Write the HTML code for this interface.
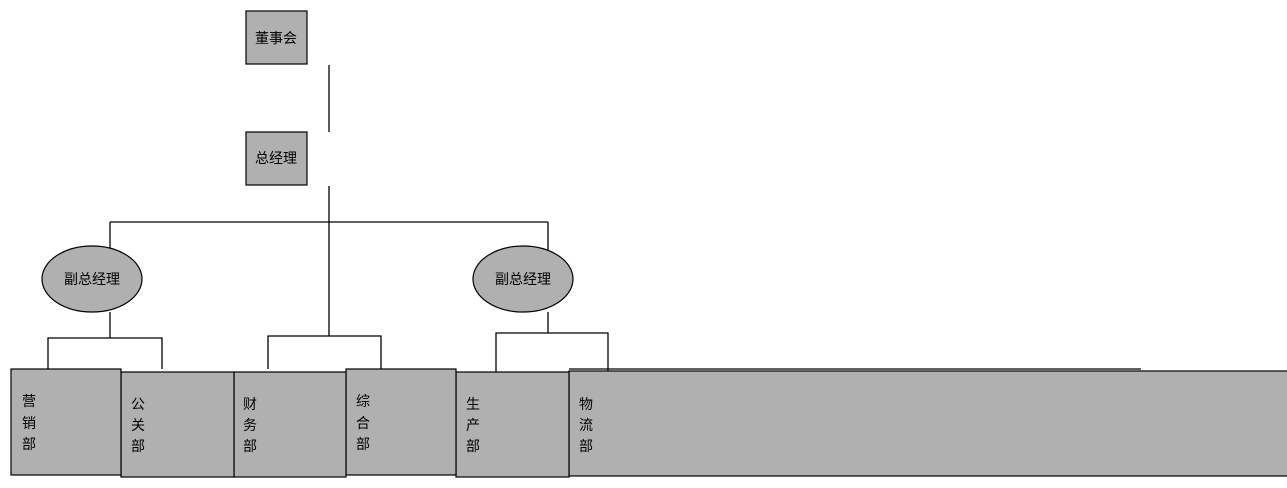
<!DOCTYPE html>
<html><head><meta charset="utf-8"><style>
html,body{margin:0;padding:0;background:#fff;width:1287px;height:488px;overflow:hidden}
svg text{font-family:"Liberation Sans","Noto Sans CJK SC",sans-serif;font-size:14px;fill:#000}
</style></head><body>
<svg width="1287" height="488" xmlns="http://www.w3.org/2000/svg">
<g stroke="#000" stroke-width="1.3" fill="none">
<line x1="329" y1="65" x2="329" y2="132"/>
<line x1="329" y1="186" x2="329" y2="336"/>
<line x1="110" y1="222" x2="548" y2="222"/>
<line x1="110" y1="222" x2="110" y2="250"/>
<line x1="548" y1="222" x2="548" y2="250"/>
<line x1="110" y1="312" x2="110" y2="338"/>
<polyline points="48,369 48,338 162,338 162,369"/>
<polyline points="268,369 268,336 381,336 381,369"/>
<line x1="548" y1="312" x2="548" y2="333"/>
<polyline points="496,372 496,333 608,333 608,372"/>
<line x1="569" y1="369" x2="1141" y2="369"/>
</g>
<g fill="#b0b0b0" stroke="#000" stroke-width="1.2">
<rect x="246" y="11" width="61" height="53"/>
<rect x="246" y="132" width="61" height="53"/>
<ellipse cx="92" cy="279" rx="50" ry="33"/>
<ellipse cx="523" cy="279" rx="50" ry="33"/>
<rect x="569" y="371" width="730" height="105"/>
<rect x="456" y="372" width="113" height="105"/>
<rect x="346" y="369" width="110" height="106"/>
<rect x="234" y="372" width="112" height="105"/>
<rect x="121" y="372" width="113" height="105"/>
<rect x="11" y="369" width="110" height="106"/>
</g>
<text x="255" y="43">董事会</text>
<text x="255" y="163">总经理</text>
<text x="64" y="284">副总经理</text>
<text x="495" y="284">副总经理</text>
<g>
<text x="22" y="406">营</text><text x="22" y="428">销</text><text x="22" y="449">部</text>
<text x="131" y="409">公</text><text x="131" y="430">关</text><text x="131" y="451">部</text>
<text x="243" y="409">财</text><text x="243" y="430">务</text><text x="243" y="451">部</text>
<text x="356" y="406">综</text><text x="356" y="428">合</text><text x="356" y="449">部</text>
<text x="466" y="409">生</text><text x="466" y="430">产</text><text x="466" y="451">部</text>
<text x="579" y="409">物</text><text x="579" y="430">流</text><text x="579" y="451">部</text>
</g>
</svg>
</body></html>
